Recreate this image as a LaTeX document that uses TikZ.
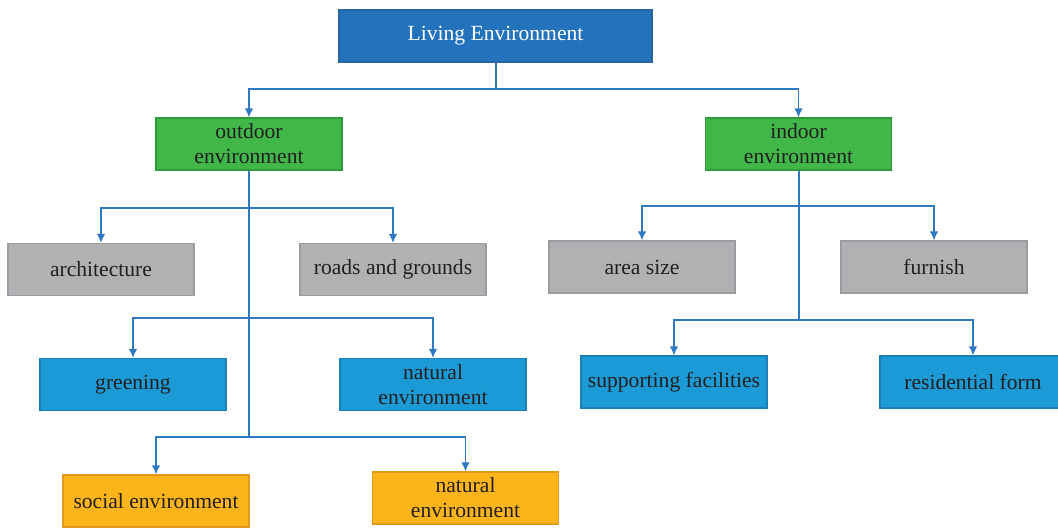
\documentclass[tikz,border=0pt]{standalone}
\usepackage{fontspec}
\setmainfont{Liberation Serif}
\usetikzlibrary{arrows.meta}
\definecolor{topblue}{HTML}{2373BC}
\definecolor{topblueline}{HTML}{2A64A0}
\definecolor{leafgreen}{HTML}{41B649}
\definecolor{leafgreenline}{HTML}{2F9A3A}
\definecolor{leafgray}{HTML}{B1B1B4}
\definecolor{leafgrayline}{HTML}{9C9CA0}
\definecolor{leafblue}{HTML}{1C9AD6}
\definecolor{leafblueline}{HTML}{1A7FB6}
\definecolor{leaforange}{HTML}{FBB41A}
\definecolor{leaforangeline}{HTML}{E39A18}
\definecolor{linkblue}{HTML}{2F78C2}
\definecolor{txtgray}{HTML}{231F20}
\begin{document}
\begin{tikzpicture}
            [x=0.5pt,y=-0.5pt,
             box/.style ={draw,line width=0.6pt,minimum width=93pt,minimum height=26pt,inner sep=1pt,align=center,
                          text=txtgray,font=\fontsize{10.8}{12.5}\selectfont},
             root/.style ={box,fill=topblue,draw=topblueline,text=white,minimum width=156.5pt},
             outer/.style ={box,fill=leafgreen,draw=leafgreenline},
             grey/.style ={box,fill=leafgray,draw=leafgrayline},
             blue/.style ={box,fill=leafblue,draw=leafblueline},
             orange/.style ={box,fill=leaforange,draw=leaforangeline},
             link/.style ={draw=linkblue,line width=0.65pt},
             trunk/.style ={draw=linkblue,line width=1pt},
             tip/.style ={-{Latex[length=4.5pt,width=4.2pt]}}]
            \useasboundingbox (0,0) rectangle (1058,527);
            \node[root] (living) at (495.5,36) {Living Environment};
            \node[outer] (outdoor) at (249,144) {outdoor\\environment};
            \node[outer] (indoor) at (798.5,144) {indoor\\environment};
            % outdoor side
            \node[grey] (arch) at (101,269.5) {architecture};
            \node[grey] (roads) at (393,269.5) {roads and grounds};
            \node[blue] (green) at (133,384.5) {greening};
            \node[blue] (natural) at (433,384.5) {natural\\environment};
            \node[orange] (social) at (156,501) {social environment};
            \node[orange] (natural2) at (465.5,498) {natural\\environment};
            % indoor side
            \node[grey] (area) at (642,267) {area size};
            \node[grey] (furnish) at (934,267) {furnish};
            \node[blue] (support) at (674,382) {supporting facilities};
            \node[blue] (resid) at (973,382) {residential form};
            % links
            \coordinate (top) at (495.5,89);
            \draw[trunk] (living.south) -- (top);
            \draw[link,tip] (top) -| (outdoor.north);
            \draw[link,tip] (top) -| (indoor.north);
            \coordinate (o1) at (249,208);
            \coordinate (o2) at (249,318);
            \coordinate (o3) at (249,437);
            \draw[trunk] (outdoor.south) -- (o3);
            \draw[link,tip] (o1) -| (arch.north);
            \draw[link,tip] (o1) -| (roads.north);
            \draw[link,tip] (o2) -| (green.north);
            \draw[link,tip] (o2) -| (natural.north);
            \draw[link,tip] (o3) -| (social.north);
            \draw[link,tip] (o3) -| (natural2.north);
            \coordinate (i1) at (798.5,206);
            \coordinate (i2) at (798.5,320);
            \draw[trunk] (indoor.south) -- (i2);
            \draw[link,tip] (i1) -| (area.north);
            \draw[link,tip] (i1) -| (furnish.north);
            \draw[link,tip] (i2) -| (support.north);
            \draw[link,tip] (i2) -| (resid.north);
        \end{tikzpicture}
\end{document}
